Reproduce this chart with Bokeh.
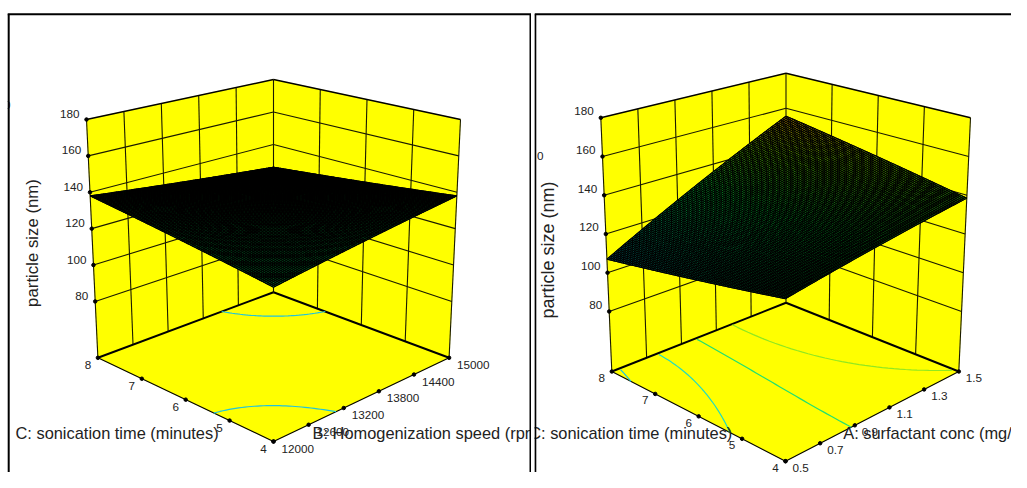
import numpy as np
from bokeh.core.properties import value
from bokeh.embed import file_html
from bokeh.layouts import row
from bokeh.models import Range1d
from bokeh.plotting import figure
from bokeh.resources import INLINE

# ---------- data ----------
z_ticks = [80, 100, 120, 140, 160, 180]
z_floor = 49
z_top = 180

c_ticks = [4, 5, 6, 7, 8]
b_ticks = [12000, 12600, 13200, 13800, 14400, 15000]
a_ticks = [0.5, 0.7, 0.9, 1.1, 1.3, 1.5]
a_tick_labels = ["0.5", "0.7", "0.9", "1.1", "1.3", "1.5"]

# response surface: rows C = 4, 6, 8; columns = low, middle, high of the other factor
left_surface = [[125, 131.5, 138], [131.5, 134, 132], [138, 132, 126]]
right_surface = [[125, 132, 138.5], [116, 131, 147], [107, 131, 155.5]]

# floor contours: (C values, other-factor values)
left_contour_1_c = [5.36, 5.17, 4.88, 4.50, 4.00]
left_contour_1_b = [12000, 12375, 12660, 12879, 13068]
left_contour_2_c = [8.00, 7.62, 7.28, 7.02, 6.82]
left_contour_2_b = [14115, 14267, 14460, 14716, 15000]

right_contour_1_c = [7.96, 7.75, 7.56]
right_contour_1_a = [0.54, 0.52, 0.50]
right_contour_2_c = [7.96, 7.36, 6.69, 5.98, 5.28]
right_contour_2_a = [0.76, 0.735, 0.683, 0.60, 0.50]
right_contour_3_c = [7.96, 6.92, 5.72, 4.68, 4.00]
right_contour_3_a = [0.98, 0.951, 0.92, 0.89, 0.88]
right_contour_4_c = [7.98, 6.87, 5.93, 5.10, 4.12]
right_contour_4_a = [1.187, 1.188, 1.242, 1.322, 1.49]

# ---------- drawing set-up ----------
FONT = value("Liberation Sans")
YELLOW = "#ffff00"
N_LINES = 100
COLOR_STEP = 4
HEIGHT = 472


def make_projector(c):
    def proj(u, v, w):
        u, v, w = np.asarray(u, float), np.asarray(v, float), np.asarray(w, float)
        out = []
        for i in (0, 1):
            bot = (c["front"][i] * (1 - u) * (1 - v) + c["left"][i] * u * (1 - v)
                   + c["right"][i] * (1 - u) * v + c["back"][i] * u * v)
            top = (c["front_top"][i] * (1 - u) * (1 - v) + c["left_top"][i] * u * (1 - v)
                   + c["right_top"][i] * (1 - u) * v + c["back_top"][i] * u * v)
            out.append(bot * (1 - w) + top * w)
        return out
    return proj


def biquad(table, u, v):
    t = np.array(table, float)
    def basis(s):
        return [2 * (s - .5) * (s - 1), -4 * s * (s - 1), 2 * s * (s - .5)]
    bu, bv = basis(u), basis(v)
    return sum(t[i][j] * bu[i] * bv[j] for i in range(3) for j in range(3))


def to_hex(vals, stops):
    zs = [s[0] for s in stops]
    r = np.interp(vals, zs, [s[1] for s in stops])
    g = np.interp(vals, zs, [s[2] for s in stops])
    b = np.interp(vals, zs, [s[3] for s in stops])
    return ["#%02x%02x%02x" % (int(x), int(y), int(k)) for x, y, k in zip(r, g, b)]


def smooth(lx, ly):
    lx, ly = np.asarray(lx), np.asarray(ly)
    t = np.concatenate([[0], np.cumsum(np.hypot(np.diff(lx), np.diff(ly)))])
    deg = min(3, len(t) - 1)
    s = np.linspace(0, t[-1], 40)
    return np.polyval(np.polyfit(t, lx, deg), s), np.polyval(np.polyfit(t, ly, deg), s)


def panel(x0, x1, corners, surface, x_ticks, x_labels, x_title, x_title_left, contours, stops,
          c_title_left, z_title, z_title_font, z_off, x_off, c_off, stray, mesh_width):
    p = figure(width=int(x1 - x0), height=HEIGHT, x_range=Range1d(x0, x1), y_range=Range1d(HEIGHT, 0),
               min_border=0, outline_line_color=None, toolbar_location=None,
               output_backend="svg", x_axis_type=None, y_axis_type=None)
    p.grid.visible = False
    proj = make_projector(corners)
    us = [(c - c_ticks[0]) / (c_ticks[-1] - c_ticks[0]) for c in c_ticks]
    vs = [(x - x_ticks[0]) / (x_ticks[-1] - x_ticks[0]) for x in x_ticks]
    ws = [(z - z_floor) / (z_top - z_floor) for z in z_ticks]

    # yellow walls and floor
    def quad(a):
        xs, ys = proj([q[0] for q in a], [q[1] for q in a], [q[2] for q in a])
        return list(xs), list(ys)
    polys = [quad([(1, 0, 0), (1, 1, 0), (1, 1, 1), (1, 0, 1)]),
             quad([(0, 1, 0), (1, 1, 0), (1, 1, 1), (0, 1, 1)]),
             quad([(0, 0, 0), (1, 0, 0), (1, 1, 0), (0, 1, 0)])]
    p.patches([q[0] for q in polys], [q[1] for q in polys], fill_color=YELLOW, line_color=YELLOW, line_width=0.5)

    # wall grid
    gx, gy = [], []
    def seg(a, b):
        xs, ys = proj([a[0], b[0]], [a[1], b[1]], [a[2], b[2]])
        gx.append(list(xs)); gy.append(list(ys))
    for v in vs[1:]:
        seg((1, v, 0), (1, v, 1))
    for u in us[1:-1]:
        seg((u, 1, 0), (u, 1, 1))
    for w in ws[:-1]:
        seg((1, 0, w), (1, 1, w))
        seg((1, 1, w), (0, 1, w))
    seg((1, 0, 0), (1, 0, 1))
    seg((0, 1, 0), (0, 1, 1))
    p.multi_line(gx, gy, line_color="#1a1a00", line_width=1.1)

    # top edge and floor edges
    gx, gy = [], []
    seg((1, 0, 1), (1, 1, 1))
    seg((1, 1, 1), (0, 1, 1))
    p.multi_line(gx, gy, line_color="black", line_width=1.4)
    gx, gy = [], []
    seg((1, 0, 0), (1, 1, 0))
    seg((1, 1, 0), (0, 1, 0))
    p.multi_line(gx, gy, line_color="black", line_width=2)
    gx, gy = [], []
    seg((0, 0, 0), (1, 0, 0))
    seg((0, 0, 0), (0, 1, 0))
    p.multi_line(gx, gy, line_color="black", line_width=1.1)

    # floor contours
    for cs, xs, color in contours:
        u = (np.array(cs) - c_ticks[0]) / (c_ticks[-1] - c_ticks[0])
        v = (np.array(xs) - x_ticks[0]) / (x_ticks[-1] - x_ticks[0])
        lx, ly = proj(u, v, np.zeros_like(u))
        lx, ly = smooth(lx, ly)
        p.line(lx, ly, line_color=color, line_width=1.2)

    # surface
    grid = np.linspace(0, 1, N_LINES + 1)
    U, V = np.meshgrid(grid, grid, indexing="ij")
    Z = biquad(surface, U, V)
    W = (Z - z_floor) / (z_top - z_floor)
    SX, SY = proj(U, V, W)
    ox = list(SX[0, :]) + list(SX[:, -1]) + list(SX[-1, ::-1]) + list(SX[::-1, 0])
    oy = list(SY[0, :]) + list(SY[:, -1]) + list(SY[-1, ::-1]) + list(SY[::-1, 0])
    p.patch(ox, oy, fill_color="black", line_color="black", line_width=1)
    px, py, pz = [], [], []
    for i in range(0, N_LINES, COLOR_STEP):
        for j in range(0, N_LINES, COLOR_STEP):
            k = i + COLOR_STEP
            l = j + COLOR_STEP
            px.append([SX[i, j], SX[k, j], SX[k, l], SX[i, l]])
            py.append([SY[i, j], SY[k, j], SY[k, l], SY[i, l]])
            pz.append(Z[i + 2, j + 2])
    cols = to_hex(pz, stops)
    p.patches(px, py, fill_color=cols, line_color=None)
    lx = [list(SX[i, :]) for i in range(N_LINES + 1)] + [list(SX[:, j]) for j in range(N_LINES + 1)]
    ly = [list(SY[i, :]) for i in range(N_LINES + 1)] + [list(SY[:, j]) for j in range(N_LINES + 1)]
    p.multi_line(lx, ly, line_color="black", line_width=mesh_width)

    # tick dots
    a, b = proj(np.ones(len(ws)), np.zeros(len(ws)), ws); zx, zy = list(a), list(b)
    a, b = proj(us, np.zeros(len(us)), np.zeros(len(us))); cx, cy = list(a), list(b)
    a, b = proj(np.zeros(len(vs)), vs, np.zeros(len(vs))); xx, xy = list(a), list(b)
    p.scatter(zx + cx + xx, zy + cy + xy, size=3.5, color="black")

    # tick labels
    sty = dict(text_font=FONT, text_color="#222222", text_font_size="11.7px", text_baseline="middle")
    p.text([q + z_off[0] for q in zx], [q + z_off[1] for q in zy], text=[str(z) for z in z_ticks],
           text_align="right", **sty)
    p.text([q + c_off[0] for q in cx], [q + c_off[1] for q in cy], text=[str(c) for c in c_ticks],
           text_align="center", **sty)
    p.text([q + x_off[0] for q in xx], [q + x_off[1] for q in xy], text=x_labels, text_align="left", **sty)

    # axis titles
    t = dict(text_font=FONT, text_color="#222222", text_font_size="16.4px", text_baseline="middle", text_align="left")
    p.text([c_title_left], [432.7], text=["C: sonication time (minutes)"], **t)
    p.text([x_title_left], [432.7], text=[x_title], **t)
    p.text([z_title[0]], [z_title[1]], text=["particle size (nm)"], angle=np.pi / 2, text_font=FONT,
           text_color="#222222", text_font_size=z_title_font, text_baseline="middle", text_align="center")
    p.text([stray[0]], [stray[1]], text=["0"], text_font=FONT, text_color="#222222",
           text_font_size="11.7px", text_baseline="middle", text_align="left")
    return p


left_corners = dict(front=(273, 441), left=(97.4, 357.3), right=(448.6, 357.3), back=(273, 291.7),
                    front_top=(273, 175), left_top=(86, 119), right_top=(460, 119), back_top=(273, 79))
right_corners = dict(front=(785, 460.7), left=(611.3, 371), right=(958.3, 371), back=(785.5, 302.3),
                     front_top=(785, 180.6), left_top=(600.3, 117.3), right_top=(970, 117.3), back_top=(785.5, 72.7))

left_stops = [(120, 0, 200, 80), (140, 0, 200, 80)]
right_stops = [(100, 0, 90, 170), (112, 0, 150, 130), (130, 0, 215, 60), (145, 110, 200, 0), (158, 240, 140, 0)]

p1 = panel(0, 531, left_corners, left_surface, b_ticks, [str(b) for b in b_ticks],
           "B: Homogenization speed (rpm)", 312,
           [(left_contour_1_c, left_contour_1_b, "#20c4dc"), (left_contour_2_c, left_contour_2_b, "#20c4dc")],
           left_stops, 15, (31.5, 242.5), "16.8px", (-7, -5.5), (8, 7), (-10, 7), (3.5, 104), 1.2)
p2 = panel(534, 1011, right_corners, right_surface, a_ticks, a_tick_labels,
           "A: surfactant conc (mg/ml)", 842.7,
           [(right_contour_1_c, right_contour_1_a, "#20c4e0"), (right_contour_2_c, right_contour_2_a, "#20dcc0"),
            (right_contour_3_c, right_contour_3_a, "#20e070"), (right_contour_4_c, right_contour_4_a, "#90e820")],
           right_stops, 528.7, (547, 249.5), "18px", (-7, -6.5), (7, 6.5), (-10, 6.5), (536.5, 155), 1.1)
# white margin outside the frame hides the part of the clipped "0" beyond the frame
p1.quad(left=[0], right=[7.2], top=[0], bottom=[HEIGHT], fill_color="white", line_color=None)
p1.line([8.2, 8.2], [13.7, HEIGHT], line_color="black", line_width=2)
p1.line([7.2, 531], [13.7, 13.7], line_color="black", line_width=2)
p1.line([530, 530], [13.7, HEIGHT], line_color="black", line_width=2)
p2.line([534.8, 534.8], [13.7, HEIGHT], line_color="black", line_width=2)
p2.line([534, 1011], [13.7, 13.7], line_color="black", line_width=2)
p2.margin = (0, 0, 0, 3)

layout = row(p1, p2)
open("out.html", "w").write(file_html(layout, INLINE))
